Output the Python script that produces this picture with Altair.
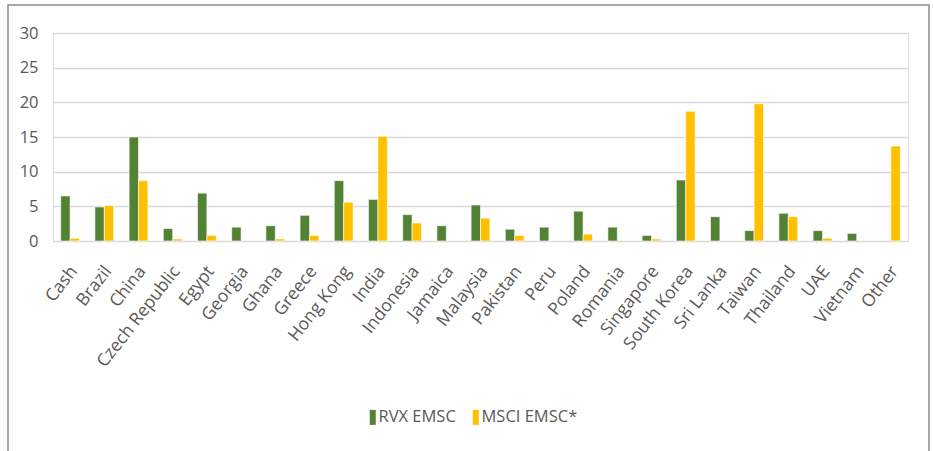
import altair as alt
import pandas as pd

categories = ["Cash", "Brazil", "China", "Czech Republic", "Egypt", "Georgia", "Ghana",
              "Greece", "Hong Kong", "India", "Indonesia", "Jamaica", "Malaysia", "Pakistan",
              "Peru", "Poland", "Romania", "Singapore", "South Korea", "Sri Lanka", "Taiwan",
              "Thailand", "UAE", "Vietnam", "Other"]
rvx_emsc = [6.5, 4.9, 15.0, 1.8, 6.9, 2.0, 2.2, 3.7, 8.7, 6.0, 3.8, 2.2, 5.2, 1.7,
            2.0, 4.3, 2.0, 0.8, 8.8, 3.5, 1.5, 4.0, 1.5, 1.1, None]
msci_emsc = [0.4, 5.1, 8.7, 0.3, 0.8, None, 0.3, 0.8, 5.6, 15.1, 2.6, None, 3.3, 0.8,
             None, 1.0, None, 0.3, 18.7, None, 19.8, 3.5, 0.4, None, 13.7]
series_names = ["RVX EMSC", "MSCI EMSC*"]
series_colors = ["#548235", "#FFC000"]
y_ticks = [0, 5, 10, 15, 20, 25, 30]

rows = []
for i, c in enumerate(categories):
    for name, vals in zip(series_names, [rvx_emsc, msci_emsc]):
        if vals[i] is not None:
            rows.append({"category": c, "series": name, "value": vals[i]})
df = pd.DataFrame(rows)

W, H = 855, 208
PL, PT = 53, 33

bars = alt.Chart(df).mark_bar(stroke="white", strokeWidth=0.6).encode(
    x=alt.X("category:N", sort=categories, title=None,
            scale=alt.Scale(paddingInner=0.45, paddingOuter=0.225),
            axis=alt.Axis(labelAngle=-52, labelAlign="right", labelBaseline="middle",
                          labelPadding=27, labelOffset=4, domain=False, ticks=False,
                          labelFont="Open Sans", labelFontSize=17.5, labelColor="#595959",
                          labelOverlap=False)),
    xOffset=alt.XOffset("series:N", sort=series_names),
    y=alt.Y("value:Q", title=None, scale=alt.Scale(domain=[0, 30], nice=False),
            axis=alt.Axis(values=y_ticks, domain=False, ticks=False, grid=True,
                          gridColor="#D9D9D9", gridWidth=1.6, labelPadding=15,
                          labelFont="Open Sans", labelFontSize=16.5, labelColor="#595959")),
    color=alt.Color("series:N", sort=series_names,
                    scale=alt.Scale(domain=series_names, range=series_colors),
                    legend=alt.Legend(title=None, orient="none", direction="horizontal",
                                      legendX=307, legendY=376, padding=0,
                                      symbolType="M0.2,-1H1V1H0.2Z", symbolSize=225,
                                      symbolStrokeWidth=0, labelOffset=2, columnPadding=7,
                                      labelFont="Open Sans", labelFontSize=16.5,
                                      labelColor="#595959")),
)

border = alt.Chart(pd.DataFrame({"k": [0]})).mark_rect(
    fill=None, stroke="#8C8C8C", strokeWidth=1.5, clip=False
).encode(
    x=alt.value(8 - PL), x2=alt.value(929 - PL),
    y=alt.value(5 - PT), y2=alt.value(470 - PT),
)

chart = alt.layer(border, bars).properties(
    width=W, height=H,
    autosize=alt.AutoSizeParams(type="none"),
    padding={"left": PL, "top": PT, "right": 933 - PL - W, "bottom": 451 - PT - H},
).configure_view(stroke=None).configure(background="white")

chart.save("out.html", embed_options={"renderer": "svg", "actions": False})
